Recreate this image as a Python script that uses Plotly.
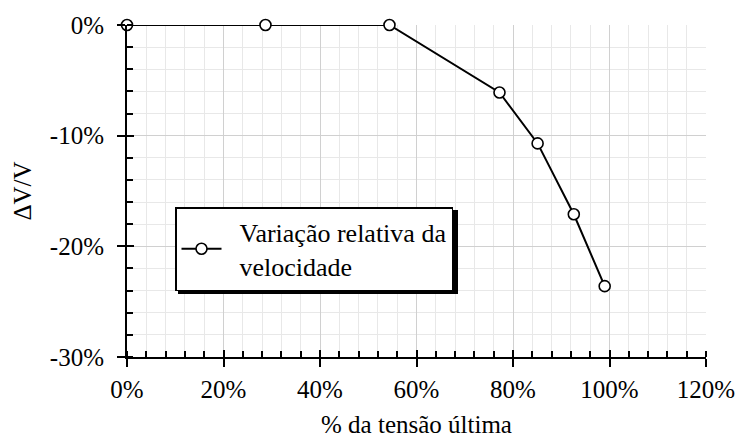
import plotly.graph_objects as go

# Stress level as a fraction of ultimate stress, and relative velocity change
tensao = [0.0, 0.287, 0.544, 0.772, 0.851, 0.926, 0.990]
delta_v = [0.0, 0.0, 0.0, -0.061, -0.107, -0.171, -0.236]

x_ticks = [0.0, 0.2, 0.4, 0.6, 0.8, 1.0, 1.2]
x_ticktext = ["0%", "20%", "40%", "60%", "80%", "100%", "120%"]
y_ticks = [0.0, -0.1, -0.2, -0.3]
y_ticktext = ["0%", "-10%", "-20%", "-30%"]

NB = "\u00a0"
serie_nome = NB * 2 + "Variação relativa da<br>" + NB * 2 + "velocidade"
x_titulo = "% da tensão última"
y_titulo = "ΔV/V"

FONT = "Liberation Serif"
FS = 25
FS_LEG = 26

L, R, T, B = 127, 31, 25, 81
W, H = 737, 438
PW, PH = W - L - R, H - T - B

LEG_X, LEG_Y = 48 / PW, (357 - 207) / PH
LEG_W, LEG_H = 280, 84
SH = 3

fig = go.Figure()
fig.add_trace(go.Scatter(
    x=tensao, y=delta_v, mode="lines+markers", name=serie_nome,
    line=dict(color="black", width=2),
    marker=dict(symbol="circle", size=11, color="white",
                line=dict(color="black", width=1.6)),
    cliponaxis=False,
))

grid_minor = "#e8e8e8"
grid_major = "#d0d0d0"

fig.update_layout(
    width=W, height=H,
    margin=dict(l=L, r=R, t=T, b=B, autoexpand=False),
    paper_bgcolor="white", plot_bgcolor="white",
    font=dict(family=FONT, size=FS, color="black"),
    showlegend=True,
    legend=dict(
        x=LEG_X, y=LEG_Y, xanchor="left", yanchor="top",
        bgcolor="white", bordercolor="black", borderwidth=1.5,
        font=dict(family=FONT, size=FS_LEG, color="black"),
        itemwidth=40, tracegroupgap=0,
    ),
    xaxis=dict(
        range=[0, 1.2], tickvals=x_ticks, ticktext=x_ticktext,
        showline=True, linecolor="black", linewidth=2,
        ticks="outside", ticklen=8, tickwidth=1.5, tickcolor="black",
        ticklabelstandoff=1,
        showgrid=True, gridcolor=grid_major, gridwidth=1,
        minor=dict(dtick=0.04, tick0=0, ticks="inside", ticklen=6,
                   tickwidth=1.5, tickcolor="black", showgrid=True,
                   gridcolor=grid_minor, gridwidth=1),
        zeroline=False, automargin=False,
        title=dict(text=x_titulo, standoff=19, font=dict(family=FONT, size=FS)),
        tickfont=dict(family=FONT, size=FS),
    ),
    yaxis=dict(
        range=[-0.30, 0], tickvals=y_ticks, ticktext=y_ticktext,
        showline=True, linecolor="black", linewidth=2,
        ticks="outside", ticklen=8, tickwidth=1.5, tickcolor="black",
        ticklabelstandoff=8,
        showgrid=True, gridcolor=grid_major, gridwidth=1,
        minor=dict(dtick=0.02, tick0=0, ticks="inside", ticklen=6,
                   tickwidth=1.5, tickcolor="black", showgrid=True,
                   gridcolor=grid_minor, gridwidth=1),
        zeroline=False, automargin=False,
        title=dict(text=y_titulo, standoff=11, font=dict(family=FONT, size=FS)),
        tickfont=dict(family=FONT, size=FS),
    ),
    # overlay axes supply the inner half of the major ticks
    xaxis2=dict(
        overlaying="x", range=[0, 1.2], tickvals=x_ticks,
        side="bottom", ticks="inside", ticklen=7, tickwidth=1.5,
        tickcolor="black", showticklabels=False, showgrid=False,
        zeroline=False, showline=False, automargin=False,
    ),
    yaxis2=dict(
        overlaying="y", range=[-0.30, 0], tickvals=y_ticks,
        side="left", ticks="inside", ticklen=7, tickwidth=1.5,
        tickcolor="black", showticklabels=False, showgrid=False,
        zeroline=False, showline=False, automargin=False,
    ),
)

# invisible trace to activate the overlay axes
fig.add_trace(go.Scatter(x=[tensao[0]], y=[delta_v[0]], xaxis="x2", yaxis="y2",
                         mode="markers", marker=dict(opacity=0),
                         showlegend=False, hoverinfo="skip"))

# drop shadow behind the legend box
fig.add_shape(type="rect", xref="paper", yref="paper",
              x0=LEG_X + SH / PW, x1=LEG_X + (SH + LEG_W) / PW,
              y0=LEG_Y - (SH + LEG_H) / PH, y1=LEG_Y - SH / PH,
              fillcolor="black", line=dict(width=0), layer="above")

fig.write_html("out.html")
